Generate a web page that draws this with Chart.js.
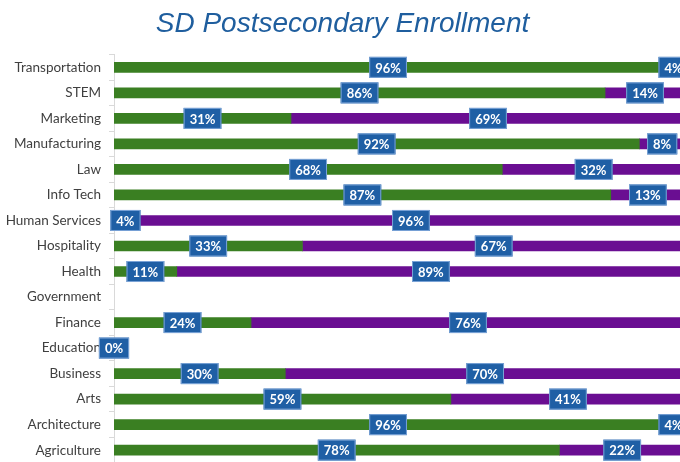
<!DOCTYPE html>
<html>
<head>
<meta charset="utf-8">
<script src="https://cdn.jsdelivr.net/npm/chart.js@4"></script>
<style>
  html, body { margin: 0; padding: 0; background: #fff; overflow: hidden; }
  #wrap { width: 685px; height: 462px; overflow: hidden; }
</style>
</head>
<body>
<div id="wrap"><canvas id="enrollChart" width="685" height="479"></canvas></div>
<script>
const categories = ['Transportation', 'STEM', 'Marketing', 'Manufacturing', 'Law', 'Info Tech',
    'Human Services', 'Hospitality', 'Health', 'Government', 'Finance', 'Education',
    'Business', 'Arts', 'Architecture', 'Agriculture'];
const greenShare = [96, 86, 31, 92, 68, 87, 4, 33, 11, null, 24, 0, 30, 59, 96, 78];
const purpleShare = [4, 14, 69, 8, 32, 13, 96, 67, 89, null, 76, null, 70, 41, 4, 22];

// blue boxes with the percentage in the middle of each segment
const boxLabels = {
    id: 'boxLabels',
    afterDatasetsDraw(chart) {
        const ctx = chart.ctx;
        ctx.save();
        ctx.font = 'bold 13px Lato';
        ctx.textAlign = 'center';
        ctx.textBaseline = 'middle';
        chart.data.datasets.forEach((ds, i) => {
            const meta = chart.getDatasetMeta(i);
            meta.data.forEach((bar, j) => {
                const v = ds.data[j];
                if (v === null || v === undefined) return;
                const txt = v + '%';
                const cx = (bar.x + bar.base) / 2;
                const cy = bar.y;
                const w = ctx.measureText(txt).width + 12;
                const h = 21;
                ctx.fillStyle = '#1f5fa5';
                ctx.fillRect(cx - w / 2, cy - h / 2, w, h);
                ctx.strokeStyle = '#7aa3d6';
                ctx.lineWidth = 1;
                ctx.strokeRect(cx - w / 2 + 0.5, cy - h / 2 + 0.5, w - 1, h - 1);
                ctx.fillStyle = '#ffffff';
                ctx.fillText(txt, cx, cy + 1);
            });
        });
        ctx.restore();
    }
};

new Chart(document.getElementById('enrollChart'), {
    type: 'bar',
    data: {
        labels: categories,
        datasets: [{
            label: 'Green',
            data: greenShare,
            backgroundColor: '#3a7f22',
            barThickness: 10
        }, {
            label: 'Purple',
            data: purpleShare,
            backgroundColor: '#6a0e92',
            barThickness: 10
        }]
    },
    options: {
        indexAxis: 'y',
        responsive: false,
        animation: false,
        layout: { padding: 0 },
        plugins: {
            legend: { display: false },
            tooltip: { enabled: false },
            title: {
                display: true,
                text: 'SD Postsecondary Enrollment',
                color: '#1f5e9e',
                font: { family: 'Liberation Sans', size: 28, style: 'italic', weight: 'normal' },
                padding: { top: 7, bottom: 14 }
            }
        },
        scales: {
            x: {
                stacked: true,
                display: false,
                min: 0,
                max: 100
            },
            y: {
                stacked: true,
                afterFit(scale) { scale.width = 114; },
                grid: {
                    offset: true,
                    drawOnChartArea: false,
                    drawTicks: true,
                    tickLength: 5,
                    color: '#d9d9d9'
                },
                border: { color: '#d9d9d9' },
                ticks: {
                    color: '#404040',
                    padding: 8,
                    font: { family: 'Lato', size: 13.5 }
                }
            }
        }
    },
    plugins: [boxLabels]
});
</script>
</body>
</html>
